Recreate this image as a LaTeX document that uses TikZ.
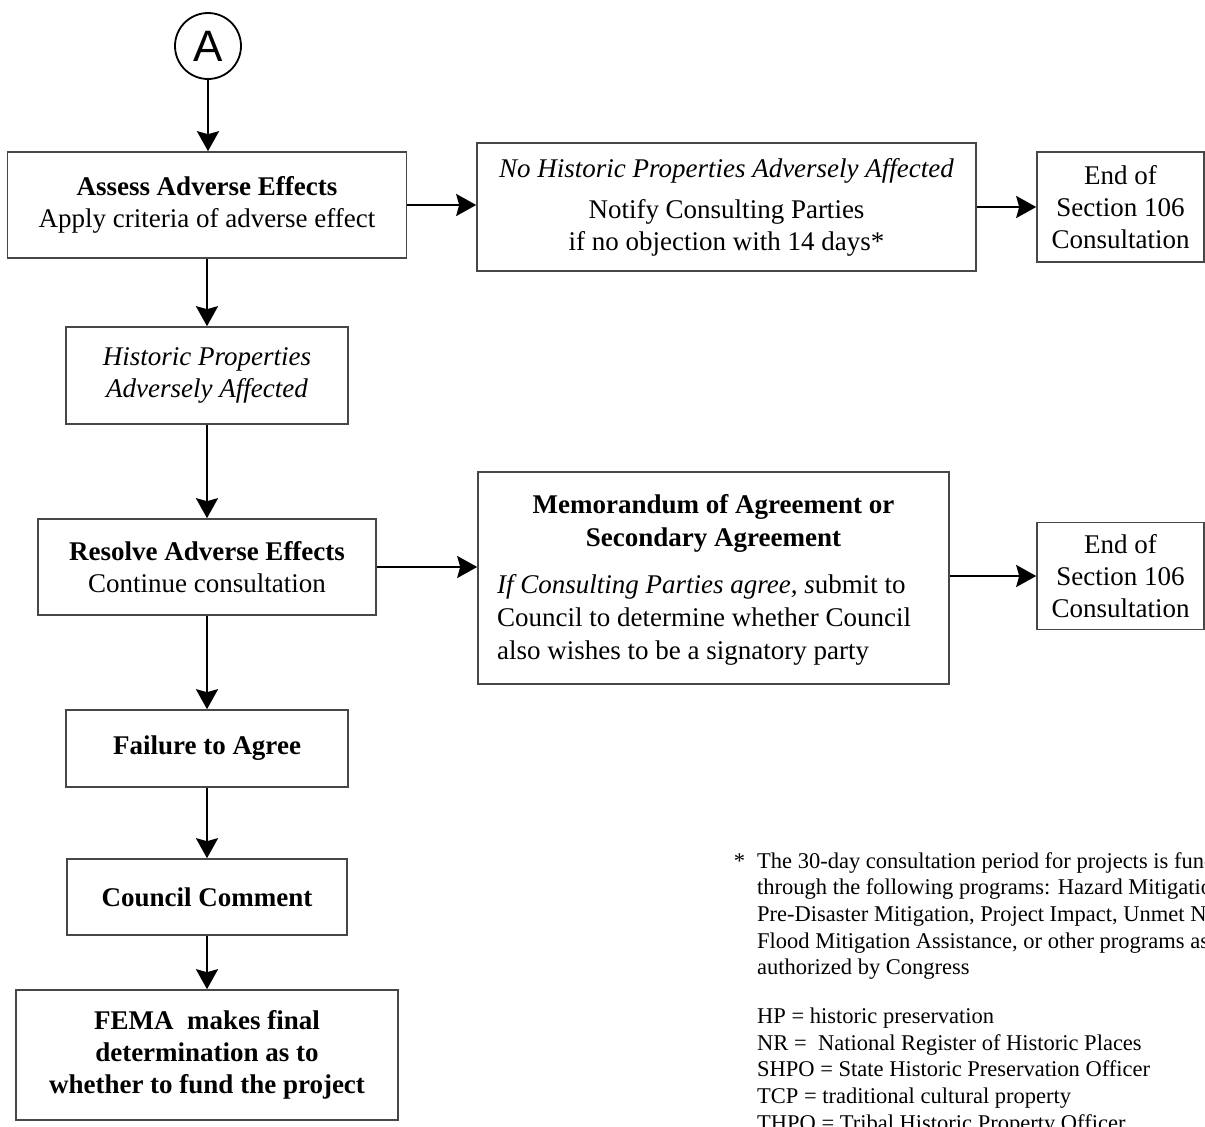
\documentclass[tikz,border=0pt]{standalone}
\usepackage{fontspec}
\setmainfont{Liberation Serif}
\newfontfamily\sansA{Liberation Sans}
\usetikzlibrary{arrows.meta}
\begin{document}
\begin{tikzpicture}[x=1pt,y=-1pt,
  box/.style={draw=black!72, line width=1.6pt, inner sep=0pt, align=center,
    font=\fontsize{27}{32}\selectfont},
  arr/.style={line width=2.4pt, -{Stealth[length=20pt,width=22pt,inset=3pt]}},
  txt/.style={inner sep=0pt, font=\fontsize{27}{33}\selectfont}]
\useasboundingbox (0,0) rectangle (1205,1127);
\fill[white] (0,0) rectangle (1205,1127);
\clip (0,0) rectangle (1205,1127);

\node[draw, circle, line width=1.8pt, minimum size=66pt, inner sep=0pt,
  font=\sansA\fontsize{44}{44}\selectfont] (circA) at (208,46) {A};

\node[box, minimum width=399pt, minimum height=106pt] (box1) at (207,205)
  {\textbf{Assess Adverse Effects}\\Apply criteria of adverse effect};
\node[box, minimum width=499pt, minimum height=128pt] (box2) at (726.5,207)
  {\textit{No Historic Properties Adversely Affected}\\[9pt]Notify Consulting Parties\\if no objection with 14 days*};
\node[box, minimum width=167pt, minimum height=110pt] (end1) at (1120.5,207)
  {End of\\Section 106\\Consultation};

\node[box, minimum width=282pt, minimum height=97pt] (box3) at (207,375.5)
  {\textit{Historic Properties}\\\textit{Adversely Affected}};

\node[box, minimum width=338pt, minimum height=96pt] (box4) at (207,567)
  {\textbf{Resolve Adverse Effects}\\Continue consultation};
\node[box, minimum width=471pt, minimum height=212pt] (box5) at (713.5,578) {};
\node[txt, align=center] (box5head) at (713.5,523)
  {\textbf{Memorandum of Agreement or}\\\textbf{Secondary Agreement}};
\node[txt, align=left, anchor=west] (box5body) at (497,620)
  {\textit{If Consulting Parties agree, s}ubmit to\\Council to determine whether Council\\also wishes to be a signatory party};
\node[box, minimum width=167pt, minimum height=107pt] (end2) at (1120.5,576)
  {End of\\Section 106\\Consultation};

\node[box, minimum width=282pt, minimum height=77pt] (box6) at (207,748.5)
  {\textbf{Failure to Agree}};
\node[box, minimum width=280pt, minimum height=76pt] (box7) at (207,897)
  {\textbf{Council Comment}};
\node[box, minimum width=382pt, minimum height=130pt] (box8) at (207,1055)
  {\textbf{FEMA~ makes final}\\\textbf{determination as to}\\\textbf{whether to fund the project}};

\node[inner sep=0pt, align=left, anchor=north west,
  font=\fontsize{22.5}{26.7}\selectfont] (note) at (757,852)
  {\makebox[0pt][r]{*\hspace{12pt}}The 30-day consultation period for projects is funded\\
   through the following programs: Hazard Mitigation\\
   Pre-Disaster Mitigation, Project Impact, Unmet Needs,\\
   Flood Mitigation Assistance, or other programs as\\
   authorized by Congress\\[22pt]
   HP = historic preservation\\
   NR =~ National Register of Historic Places\\
   SHPO = State Historic Preservation Officer\\
   TCP = traditional cultural property\\
   THPO = Tribal Historic Property Officer};

\draw[arr] (circA.south) -- (circA.south |- box1.north);
\draw[arr] (box1.south) -- (box3.north);
\draw[arr] (box3.south) -- (box4.north);
\draw[arr] (box4.south) -- (box6.north);
\draw[arr] (box6.south) -- (box7.north);
\draw[arr] (box7.south) -- (box8.north);
\draw[arr] (box1.east) -- (box1.east -| box2.west);
\draw[arr] (box2.east) -- (box2.east -| end1.west);
\draw[arr] (box4.east) -- (box4.east -| box5.west);
\draw[arr] (box5.east |- end2.west) -- (end2.west);
\end{tikzpicture}
\end{document}
